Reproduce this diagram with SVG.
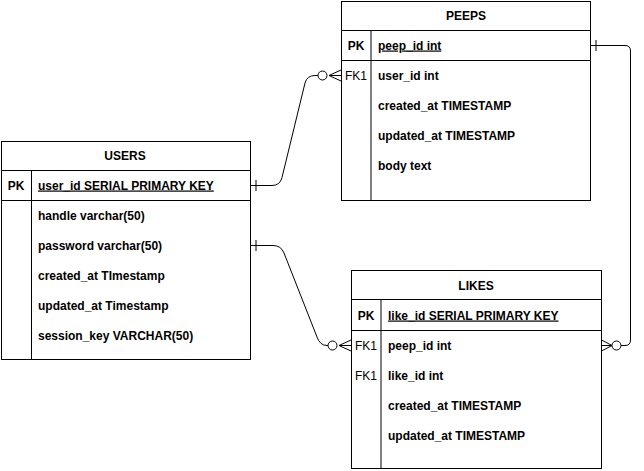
<svg xmlns="http://www.w3.org/2000/svg" width="644" height="471" viewBox="0 0 644 471">
<style>
.box{fill:#fff;stroke:#000;stroke-width:1}
.ln{stroke:#000;stroke-width:1;fill:none}
.t{font-family:"Liberation Sans",Arial,sans-serif;font-size:12px;fill:#000}
.b{font-weight:bold}
.h{font-weight:bold;text-anchor:middle}
.c{text-anchor:middle}
.u{text-decoration:underline}
.e{stroke:#000;stroke-width:1;fill:none}
.o{stroke:#000;stroke-width:1;fill:#fff}
</style>
<rect width="644" height="471" fill="#fff"/>
<g id="users">
<rect class="box" x="1.5" y="141.5" width="249" height="218"/>
<line class="ln" x1="1.5" y1="170.5" x2="250.5" y2="170.5"/>
<line class="ln" x1="1.5" y1="200.5" x2="250.5" y2="200.5"/>
<line class="ln" x1="31.5" y1="170.5" x2="31.5" y2="359.5"/>
<text class="t h" x="125" y="159.5">USERS</text>
<text class="t h" x="16" y="189.5">PK</text>
<text class="t b u" x="38" y="189.5">user_id SERIAL PRIMARY KEY</text>
<text class="t b" x="38" y="219.5">handle varchar(50)</text>
<text class="t b" x="38" y="249.5">password varchar(50)</text>
<text class="t b" x="38" y="279.5">created_at TImestamp</text>
<text class="t b" x="38" y="309.5">updated_at Timestamp</text>
<text class="t b" x="38" y="339.5">session_key VARCHAR(50)</text>
</g>
<g id="peeps">
<rect class="box" x="341.5" y="1.5" width="249" height="199"/>
<line class="ln" x1="341.5" y1="30.5" x2="590.5" y2="30.5"/>
<line class="ln" x1="341.5" y1="60.5" x2="590.5" y2="60.5"/>
<line class="ln" x1="371" y1="30.5" x2="371" y2="200.5"/>
<text class="t h" x="466" y="19.5">PEEPS</text>
<text class="t h" x="356" y="49.5">PK</text>
<text class="t b u" x="378" y="49.5">peep_id int</text>
<text class="t c" x="356" y="79.5">FK1</text>
<text class="t b" x="378" y="79.5">user_id int</text>
<text class="t b" x="378" y="109.5">created_at TIMESTAMP</text>
<text class="t b" x="378" y="139.5">updated_at TIMESTAMP</text>
<text class="t b" x="378" y="169.5">body text</text>
</g>
<g id="likes">
<rect class="box" x="351.5" y="270.5" width="250" height="198"/>
<line class="ln" x1="351.5" y1="299.5" x2="601.5" y2="299.5"/>
<line class="ln" x1="351.5" y1="330.5" x2="601.5" y2="330.5"/>
<line class="ln" x1="381" y1="299.5" x2="381" y2="468.5"/>
<text class="t h" x="476" y="289.5">LIKES</text>
<text class="t h" x="366" y="319.5">PK</text>
<text class="t b u" x="388" y="319.5">like_id SERIAL PRIMARY KEY</text>
<text class="t c" x="366" y="349.5">FK1</text>
<text class="t b" x="388" y="349.5">peep_id int</text>
<text class="t c" x="366" y="379.5">FK1</text>
<text class="t b" x="388" y="379.5">like_id int</text>
<text class="t b" x="388" y="409.5">created_at TIMESTAMP</text>
<text class="t b" x="388" y="439.5">updated_at TIMESTAMP</text>
</g>
<g id="connectors">
<path class="e" d="M250.5,185.5 L272,185.5 Q280,185.5 282,177.5 L305,83 Q307,75.5 315,75.5 L318,75.5"/>
<line class="e" x1="256" y1="180" x2="256" y2="191"/>
<circle class="o" cx="322.5" cy="75.5" r="4.5"/>
<path class="e" d="M341,70 L329,75.5 L341,81 M329,75.5 L341,75.5"/>
<path class="e" d="M250.5,245.5 L273,245.5 Q281,245.5 284,253 L317,337 Q320,345.5 327,345.5 L328,345.5"/>
<line class="e" x1="256" y1="240" x2="256" y2="251"/>
<circle class="o" cx="332.5" cy="345.5" r="4.5"/>
<path class="e" d="M351,340 L339,345.5 L351,351 M339,345.5 L351,345.5"/>
<path class="e" d="M590.5,45.5 L625,45.5 Q630.5,45.5 630.5,51 L630.5,340 Q630.5,345.5 625,345.5 L621,345.5"/>
<line class="e" x1="596" y1="40" x2="596" y2="51"/>
<circle class="o" cx="616.5" cy="345.5" r="4.5"/>
<path class="e" d="M601.5,340 L612,345.5 L601.5,351 M612,345.5 L601.5,345.5"/>
</g>
</svg>
